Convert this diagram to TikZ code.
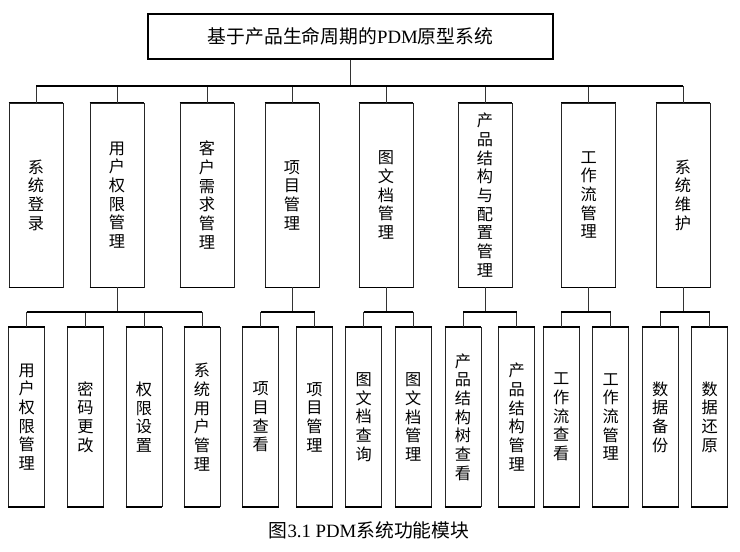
\documentclass[tikz,border=0pt]{standalone}
\usepackage{fontspec}
\setmainfont{Liberation Serif}
\newfontfamily\cjk{Noto Sans CJK SC}
\begin{document}
\begin{tikzpicture}[x=1pt,y=-1pt,
  box/.style={draw=black!85, line width=0.9pt, inner sep=0pt, align=center,
    font=\cjk\fontsize{16.2}{18.7}\selectfont},
  lone/.style={box, minimum width=54pt, minimum height=184pt},
  ltwo/.style={box, minimum width=36pt, minimum height=179pt},
  conn/.style={draw=black!80, line width=0.9pt},
  bus/.style={draw=black, line width=1.8pt},
  edge/.style={line width=1.8pt}]
\useasboundingbox[fill=white] (0,0) rectangle (740,552);

% root
\node[draw=black, line width=1.2pt, minimum width=405pt, minimum height=45pt, inner sep=0pt,
  font=\fontsize{18.8}{20}\selectfont] (root) at (350.5,36.5)
  {{\cjk 基于产品生命周期的}PDM{\cjk 原型系统}};

% level 1
\node[lone] (a1) at (36,195) {系\\统\\登\\录};
\node[lone] (a2) at (117,195) {用\\户\\权\\限\\管\\理};
\node[lone] (a3) at (207,195) {客\\户\\需\\求\\管\\理};
\node[lone] (a4) at (292,195) {项\\目\\管\\理};
\node[lone] (a5) at (386,195) {图\\文\\档\\管\\理};
\node[lone] (a6) at (485,195) {产\\品\\结\\构\\与\\配\\置\\管\\理};
\node[lone] (a7) at (588.7,195) {工\\作\\流\\管\\理};
\node[lone] (a8) at (683,195) {系\\统\\维\\护};

% level 2
\node[ltwo] (b1)  at (26.7,417)  {用\\户\\权\\限\\管\\理};
\node[ltwo] (b2)  at (85.5,417)  {密\\码\\更\\改};
\node[ltwo] (b3)  at (144,417)   {权\\限\\设\\置};
\node[ltwo] (b4)  at (202,417)   {系\\统\\用\\户\\管\\理};
\node[ltwo] (b5)  at (260.7,417) {项\\目\\查\\看};
\node[ltwo] (b6)  at (314.5,417) {项\\目\\管\\理};
\node[ltwo] (b7)  at (363.7,417) {图\\文\\档\\查\\询};
\node[ltwo] (b8)  at (413.3,417) {图\\文\\档\\管\\理};
\node[ltwo] (b9)  at (463,417)   {产\\品\\结\\构\\树\\查\\看};
\node[ltwo] (b10) at (516.7,417) {产\\品\\结\\构\\管\\理};
\node[ltwo] (b11) at (561.3,417) {工\\作\\流\\查\\看};
\node[ltwo] (b12) at (610.8,417) {工\\作\\流\\管\\理};
\node[ltwo] (b13) at (660.3,417) {数\\据\\备\\份};
\node[ltwo] (b14) at (709.7,417) {数\\据\\还\\原};

% thick horizontal edges of boxes
\foreach \n in {a1,a2,a3,a4,a5,a6,a7,a8,b1,b2,b3,b4,b5,b6,b7,b8,b9,b10,b11,b12,b13,b14}
  \draw[edge] (\n.north west) -- (\n.north east) (\n.south west) -- (\n.south east);

% buses
\coordinate (bus0) at (0,86);
\coordinate (bus1) at (0,312);

\draw[conn] (root.south) -- (root.south |- bus0);
\foreach \n in {a1,a2,a3,a4,a5,a6,a7,a8}
  \draw[conn] (\n.north |- bus0) -- (\n.north);
\draw[bus] (a1.north |- bus0) -- (a8.north |- bus0);

% level 2 groups
\foreach \p/\f/\l/\list in {a2/b1/b4/{b1,b2,b3,b4}, a4/b5/b6/{b5,b6}, a5/b7/b8/{b7,b8},
    a6/b9/b10/{b9,b10}, a7/b11/b12/{b11,b12}, a8/b13/b14/{b13,b14}}{
  \draw[conn] (\p.south) -- (\p.south |- bus1);
  \foreach \c in \list
    \draw[conn] (\c.north |- bus1) -- (\c.north);
  \draw[bus] (\f.north |- bus1) -- (\l.north |- bus1);
}

% caption
\node[font=\fontsize{18.8}{20}\selectfont] (cap) at (369,530)
  {{\cjk 图}3.1 PDM{\cjk 系统功能模块}};
\end{tikzpicture}
\end{document}
